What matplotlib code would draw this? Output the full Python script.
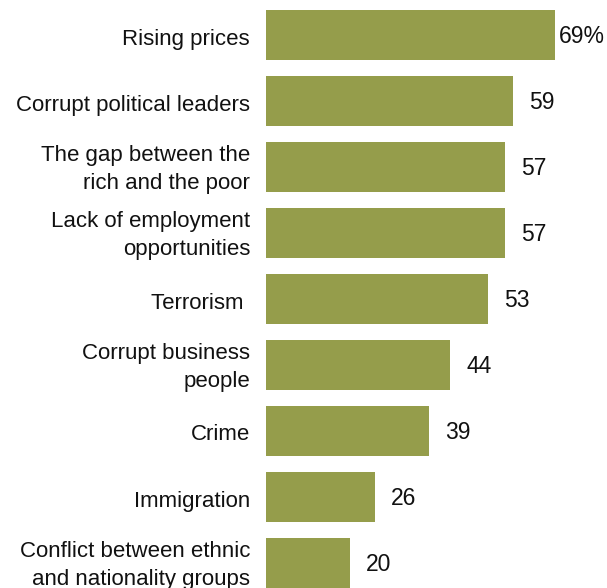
import matplotlib
matplotlib.use("Agg")
import matplotlib.pyplot as plt

categories = ["Rising prices", "Corrupt political leaders", "The gap between the\nrich and the poor",
              "Lack of employment\nopportunities", "Terrorism ", "Corrupt business\npeople", "Crime",
              "Immigration", "Conflict between ethnic\nand nationality groups"]
values = [69, 59, 57, 57, 53, 44, 39, 26, 20]
value_labels = ["69%", "59", "57", "57", "53", "44", "39", "26", "20"]

W, H = 607, 588
fig = plt.figure(figsize=(W/100, H/100), dpi=100)
plt.rcParams['font.family'] = ['Liberation Sans', 'DejaVu Sans']
left = 266/W
xmax = 80
ax = fig.add_axes([left, 0, xmax*4.19/W, 1])
color = "#959d4b"
ys = list(range(len(values)))
ax.barh(ys, values, height=50/66, color=color)
ax.set_xlim(0, xmax)
ax.set_ylim((588-35)/66, -35/66)
for i, (v, lab) in enumerate(zip(values, value_labels)):
    off = 1.0 if i == 0 else 3.8
    ax.text(v + off, i + 0.02, lab, va='center', ha='left', fontsize=16.5, color='#111111')
px = 0.72
for i, cat in enumerate(categories):
    dy = -2.5 * px if "\n" in cat else -4 * px
    ax.annotate(cat, xy=(0, i), xycoords=('axes fraction', 'data'),
                xytext=(-16 * px, dy), textcoords='offset points',
                ha='right', va='center', fontsize=16, color='#111111',
                linespacing=1.4, annotation_clip=False)
ax.set_yticks([])
ax.set_xticks([])
for s in ax.spines.values():
    s.set_visible(False)
fig.savefig("out.png", dpi=100)
